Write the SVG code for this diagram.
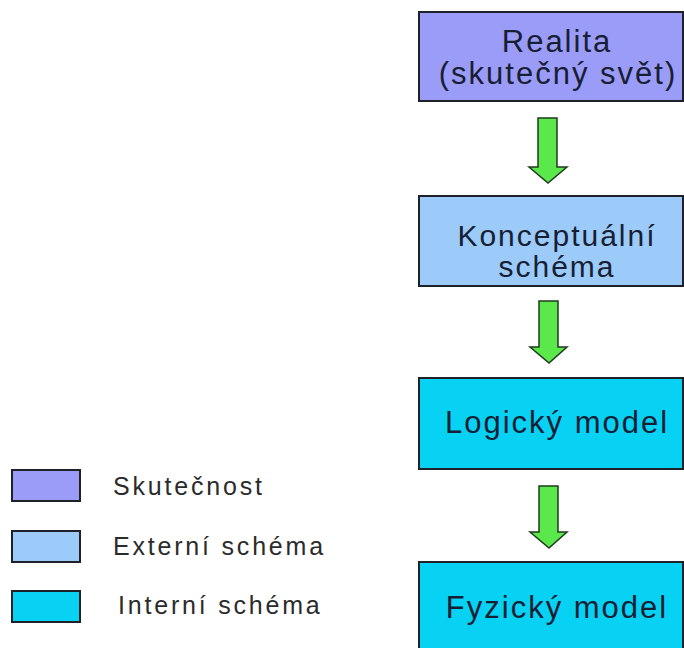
<svg xmlns="http://www.w3.org/2000/svg" width="684" height="648" viewBox="0 0 684 648">
  <style>
    .box { stroke: #1e2228; stroke-width: 2; }
    .real { fill: #9b9bf8; }
    .ext { fill: #9ccbfa; }
    .int { fill: #08d2f4; }
    .lbl { font-family: "Liberation Sans", Arial, sans-serif; font-size: 31px; fill: #172033; text-anchor: middle; letter-spacing: 2px; }
    .sm { font-size: 30px; }
    .leg { font-family: "Liberation Sans", Arial, sans-serif; font-size: 25px; fill: #2b2b2b; letter-spacing: 2.8px; }
    .arrow { fill: #5ae84a; stroke: #1f3a1f; stroke-width: 1.5; stroke-linejoin: miter; }
  </style>
  <rect width="684" height="648" fill="#ffffff"/>

  <g id="realita">
    <rect class="box real" x="419" y="12" width="264" height="89"/>
    <text class="lbl" x="557" y="52">Realita</text>
    <text class="lbl" x="558" y="84">(skutečný svět)</text>
  </g>

  <g id="konceptualni-schema">
    <rect class="box ext" x="419" y="196" width="264" height="90"/>
    <text class="lbl sm" x="557" y="246">Konceptuální</text>
    <text class="lbl sm" x="557" y="277">schéma</text>
  </g>

  <g id="logicky-model">
    <rect class="box int" x="419" y="378" width="264" height="91"/>
    <text class="lbl" x="557" y="433">Logický model</text>
  </g>

  <g id="fyzicky-model">
    <rect class="box int" x="419" y="562" width="264" height="96"/>
    <text class="lbl" x="557" y="618">Fyzický model</text>
  </g>

  <g id="connectors">
    <polygon class="arrow" points="538,118 557,118 557,167 567,167 548,183 529,167 538,167"/>
    <polygon class="arrow" points="539,301 558,301 558,347 567,347 549,363 530,347 539,347"/>
    <polygon class="arrow" points="539,486 558,486 558,532 567,532 549,548 530,532 539,532"/>
  </g>

  <g id="legend">
    <g id="legend-skutecnost">
      <rect class="box real" x="12" y="470" width="68" height="31"/>
      <text class="leg" x="113" y="495">Skutečnost</text>
    </g>
    <g id="legend-externi">
      <rect class="box ext" x="12" y="531" width="68" height="31"/>
      <text class="leg" x="113" y="555">Externí schéma</text>
    </g>
    <g id="legend-interni">
      <rect class="box int" x="12" y="591" width="68" height="31"/>
      <text class="leg" x="118" y="614">Interní schéma</text>
    </g>
  </g>
</svg>
